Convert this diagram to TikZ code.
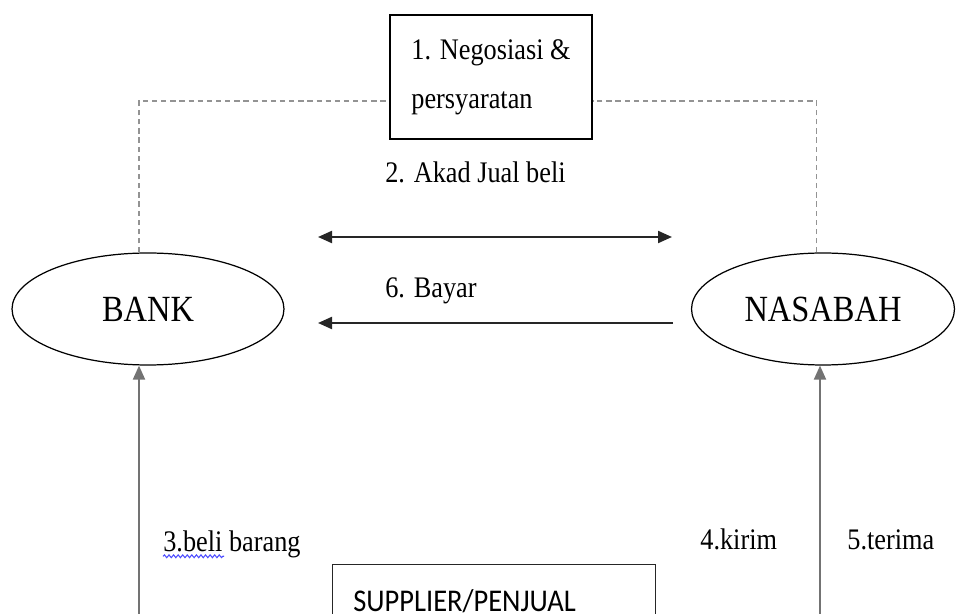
\documentclass[tikz,border=0pt]{standalone}
\usepackage{fontspec}
\setmainfont{Liberation Serif}[FakeStretch=0.88]
\newfontfamily\calibri{Carlito}[FakeStretch=0.9]
\usetikzlibrary{shapes.geometric,arrows.meta,decorations.pathmorphing}

\begin{document}
\begin{tikzpicture}[x=0.02cm, y=-0.02cm,
    >={Triangle[length=0.28cm, width=0.24cm]},
    pihak/.style={ellipse, draw, line width=0.7pt, minimum width=5.44cm, minimum height=2.24cm, font=\fontsize{21}{24}\selectfont},
    ket/.style={anchor=base west, inner sep=0pt, font=\fontsize{17}{20}\selectfont},
    garis/.style={gray!85, dash pattern=on 3pt off 2.2pt, line width=0.8pt},
    panah/.style={line width=1.2pt, black!85},
    panahabu/.style={->, line width=1.1pt, gray!90!black}]
  % \draw[help lines, gray!50, very thin] (0,0) grid[step=50] (956,614);
  \useasboundingbox (0,0) rectangle (956,614);
  \clip (0,0) rectangle (956,614);

  \node[pihak] (bank) at (148,309) {BANK};
  \node[pihak, minimum width=5.26cm] (nasabah) at (823,309) {NASABAH};

  \node[draw, line width=0.8pt, minimum width=4.04cm, minimum height=2.48cm,
        align=left, font=\fontsize{17}{27.8}\selectfont] (nego) at (491,77)
        {1. Negosiasi \&\\ persyaratan};

  \draw[garis] ([xshift=-0.18cm]bank.north) |- ([yshift=-0.48cm]nego.west);
  \draw[garis] ([xshift=-0.13cm]nasabah.north) |- ([yshift=-0.48cm]nego.east);

  \coordinate (akadkiri) at (318,237);
  \coordinate (akadkanan) at (672,237);
  \draw[panah, <->] (akadkiri) -- (akadkanan);
  \node[ket] (akad) at (385,183) {2. Akad Jual beli};

  \coordinate (bayarkanan) at (673,323);
  \coordinate (bayarkiri) at (318,323);
  \draw[panah, ->] (bayarkanan) -- (bayarkiri);
  \node[ket] (bayar) at (385,298) {6. Bayar};

  \coordinate (kakibank) at (139,614);
  \draw[panahabu] (kakibank) -- (kakibank |- bank.south);
  \coordinate (kakinasabah) at (820,614);
  \draw[panahabu] (kakinasabah) -- (kakinasabah |- nasabah.south);

  \node[ket] (beli) at (163,551) {3.beli barang};
  \draw[blue!70, line width=0.6pt, decorate, decoration={snake, amplitude=0.8pt, segment length=2.6pt}]
    ([yshift=-3pt]beli.base west) -- ++(61,0);
  \node[ket] (kirim) at (700,549) {4.kirim};
  \node[ket] (terima) at (847,549) {5.terima};

  \node[draw, line width=0.8pt, gray!30!black, minimum width=6.46cm, minimum height=1.6cm,
        anchor=north west] (supplier) at (332,564) {};
  \node[anchor=base west, inner sep=0pt, font=\calibri\fontsize{18}{20}\selectfont] (suppliertxt)
    at (353,611) {SUPPLIER/PENJUAL};
\end{tikzpicture}
\end{document}
